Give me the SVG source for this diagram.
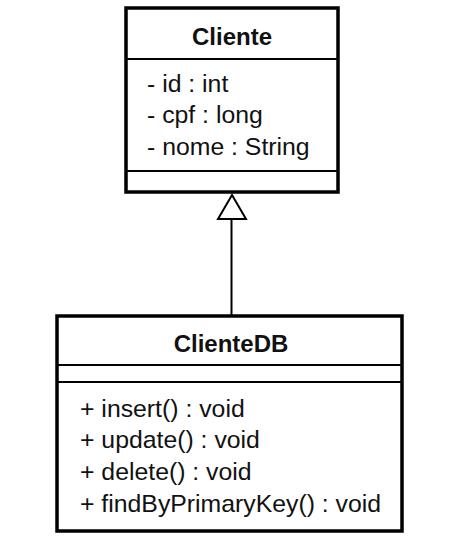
<svg xmlns="http://www.w3.org/2000/svg" width="456" height="560" viewBox="0 0 456 560">
<style>
.box{fill:#fff;stroke:#000;stroke-width:3.5}
.div{stroke:#000;stroke-width:2}
.t{font-family:"Liberation Sans",Arial,sans-serif;font-size:24.8px;fill:#111}
.b{font-weight:bold;text-anchor:middle;font-size:24px}
</style>
<rect width="456" height="560" fill="#fff"/>
<g id="connectors">
<line x1="231.5" y1="219" x2="231.5" y2="315" stroke="#000" stroke-width="2"/>
<polygon points="232,195 218,219 246,219" fill="#fff" stroke="#000" stroke-width="2"/>
</g>
<g id="Cliente">
<rect class="box" x="126" y="8" width="212" height="184"/>
<line class="div" x1="126" y1="59" x2="338" y2="59"/>
<line class="div" x1="126" y1="171" x2="338" y2="171"/>
<text class="t b" x="232" y="45">Cliente</text>
<text class="t" x="147" y="92">- id : int</text>
<text class="t" x="147" y="123">- cpf : long</text>
<text class="t" x="147" y="155">- nome : String</text>
</g>
<g id="ClienteDB">
<rect class="box" x="57" y="316" width="345" height="215"/>
<line class="div" x1="57" y1="365" x2="402" y2="365"/>
<line class="div" x1="57" y1="382" x2="402" y2="382"/>
<text class="t b" x="231" y="352">ClienteDB</text>
<text class="t" x="80" y="417">+ insert() : void</text>
<text class="t" x="80" y="448">+ update() : void</text>
<text class="t" x="80" y="480">+ delete() : void</text>
<text class="t" x="80" y="512">+ findByPrimaryKey() : void</text>
</g>
</svg>
